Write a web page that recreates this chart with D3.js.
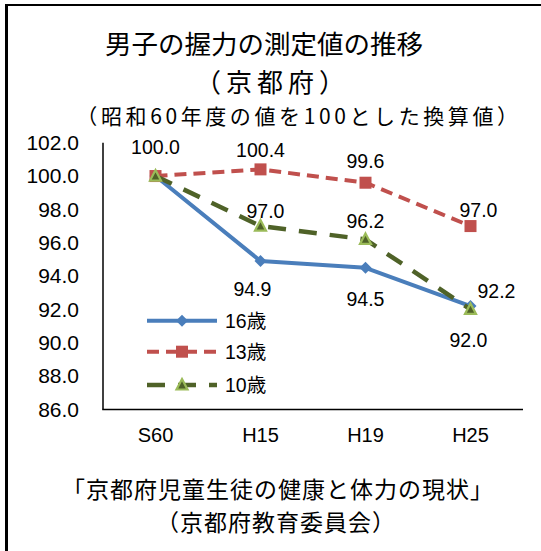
<!DOCTYPE html>
<html><head><meta charset="utf-8">
<script src="https://cdn.jsdelivr.net/npm/d3@7"></script>
<style>body{margin:0;background:#fff}svg{display:block}</style>
</head><body>
<svg id="chart" width="541" height="551"></svg>
<script>
// ---- data ----
const categories = ["S60", "H15", "H19", "H25"];
const seriesNames = ["16歳", "13歳", "10歳"];
const values16 = [100.0, 94.9, 94.5, 92.2];
const values13 = [100.0, 100.4, 99.6, 97.0];
const values10 = [100.0, 97.0, 96.2, 92.0];
const yTicks = [86, 88, 90, 92, 94, 96, 98, 100, 102];
const titleLines = ["男子の握力の測定値の推移", "（京都府）"];
const subtitleText = "（昭和60年度の値を100とした換算値）";
const sourceLines = ["「京都府児童生徒の健康と体力の現状」", "（京都府教育委員会）"];

// ---- styles / placement (not data) ----
const seriesStyle = {
  "16歳": {color: "#4A7EBB", dash: null, width: 4, marker: "diamond"},
  "13歳": {color: "#C0504D", dash: "12,7", width: 4, marker: "square"},
  "10歳": {color: "#4F6228", dash: "18,13", width: 4.5, marker: "triangle"}
};
// label offsets (relative to point) for the points that show a value label
const labelPlacement = {
  "16歳": [null, [-8, 28], [0, 31], [26, -15]],
  "13歳": [[0, -29], [0, -19], [0, -22], [8, -16]],
  "10歳": [null, [5, -15], [0, -18], [-2, 31]]
};

const seriesValues = {"16歳": values16, "13歳": values13, "10歳": values10};

const svg = d3.select("#chart");
const JP = "'Noto Sans CJK JP', sans-serif";
const NUM = "'Liberation Sans', Arial, 'Noto Sans CJK JP', sans-serif";

// border (top + left)
svg.append("line").attr("x1", 6.5).attr("x2", 6.5).attr("y1", 4).attr("y2", 551)
  .attr("stroke", "#000").attr("stroke-width", 3);
svg.append("line").attr("x1", 5).attr("x2", 541).attr("y1", 5).attr("y2", 5)
  .attr("stroke", "#000").attr("stroke-width", 2);

// titles
svg.append("text").attr("x", 264).attr("y", 53.5).attr("text-anchor", "middle")
  .attr("font-family", JP).attr("font-size", 26.5).attr("fill", "#000").text(titleLines[0]);
svg.append("text").attr("x", 272.5).attr("y", 91.5).attr("text-anchor", "middle")
  .attr("font-family", JP).attr("font-size", 26).attr("letter-spacing", 5)
  .attr("fill", "#000").text(titleLines[1]);
svg.append("text").attr("x", 299).attr("y", 123.5).attr("text-anchor", "middle")
  .attr("font-family", JP).attr("font-size", 21).attr("letter-spacing", 3.6)
  .attr("fill", "#000").text(subtitleText);

// scales
const x = d3.scaleBand().domain(categories).range([103, 523]);
const y = d3.scaleLinear().domain([86, 102]).range([409.5, 142.7]);
const cx = c => x(c) + x.bandwidth() / 2;

// axes
const yAxis = svg.append("g").attr("transform", "translate(103,0)")
  .call(d3.axisLeft(y).tickValues(yTicks).tickFormat(d3.format(".1f")).tickSize(0).tickPadding(24));
yAxis.selectAll("text").attr("font-family", NUM).attr("font-size", 21).attr("fill", "#000");
yAxis.select(".domain").remove();

const xAxis = svg.append("g").attr("transform", "translate(0,409.5)")
  .call(d3.axisBottom(x).tickSize(0).tickPadding(18));
xAxis.selectAll("text").attr("font-family", NUM).attr("font-size", 20).attr("fill", "#000");
xAxis.select(".domain").remove();

svg.append("line").attr("x1", 103).attr("x2", 103).attr("y1", y(102)).attr("y2", y(86))
  .attr("stroke", "#000").attr("stroke-width", 1.5);
svg.append("line").attr("x1", 102.25).attr("x2", 523).attr("y1", y(86)).attr("y2", y(86))
  .attr("stroke", "#000").attr("stroke-width", 1.5);

// markers
function drawMarker(g, type, px, py) {
  if (type === "diamond") {
    const r = 6;
    g.append("path").attr("d", `M${px},${py - r}L${px + r},${py}L${px},${py + r}L${px - r},${py}Z`)
      .attr("fill", "#4A7EBB");
  } else if (type === "square") {
    const s = 12;
    g.append("rect").attr("x", px - s / 2).attr("y", py - s / 2).attr("width", s).attr("height", s)
      .attr("fill", "#C0504D");
  } else {
    const h = 10, w = 11;
    g.append("path").attr("d", `M${px},${py - h * 0.6}L${px + w / 2},${py + h * 0.45}L${px - w / 2},${py + h * 0.45}Z`)
      .attr("fill", "#4F6228").attr("stroke", "#9BBB59").attr("stroke-width", 2.2)
      .attr("stroke-linejoin", "miter");
  }
}

const line = d3.line().x((d, i) => cx(categories[i])).y(d => y(d));

seriesNames.forEach(name => {
  const st = seriesStyle[name];
  const g = svg.append("g");
  g.append("path").datum(seriesValues[name]).attr("d", line)
    .attr("fill", "none").attr("stroke", st.color).attr("stroke-width", st.width)
    .attr("stroke-dasharray", st.dash).attr("stroke-linejoin", "round");
  seriesValues[name].forEach((v, i) => drawMarker(g, st.marker, cx(categories[i]), y(v)));
});

// value labels
seriesNames.forEach(name => {
  seriesValues[name].forEach((v, i) => {
    const p = labelPlacement[name][i];
    if (!p) return;
    svg.append("text").attr("x", cx(categories[i]) + p[0]).attr("y", y(v) + p[1] + 7)
      .attr("text-anchor", "middle").attr("font-family", NUM).attr("font-size", 19.5)
      .attr("fill", "#000").text(d3.format(".1f")(v));
  });
});

// legend
const legY = [320.7, 351.7, 385];
seriesNames.forEach((name, i) => {
  const st = seriesStyle[name];
  const g = svg.append("g");
  g.append("line").attr("x1", 147).attr("x2", 217).attr("y1", legY[i]).attr("y2", legY[i])
    .attr("stroke", st.color).attr("stroke-width", st.width).attr("stroke-dasharray", st.dash);
  drawMarker(g, st.marker, 182, legY[i]);
  g.append("text").attr("x", 225).attr("y", legY[i] + 7).attr("font-family", NUM)
    .attr("font-size", 19.5).attr("fill", "#000").text(name);
});

// source
const sl = [[278, 497.5], [276, 531]];
sourceLines.forEach((t, i) => {
  svg.append("text").attr("x", sl[i][0]).attr("y", sl[i][1]).attr("text-anchor", "middle")
    .attr("font-family", JP).attr("font-size", 23).attr("letter-spacing", 1)
    .attr("fill", "#000").text(t);
});
</script>
</body></html>
